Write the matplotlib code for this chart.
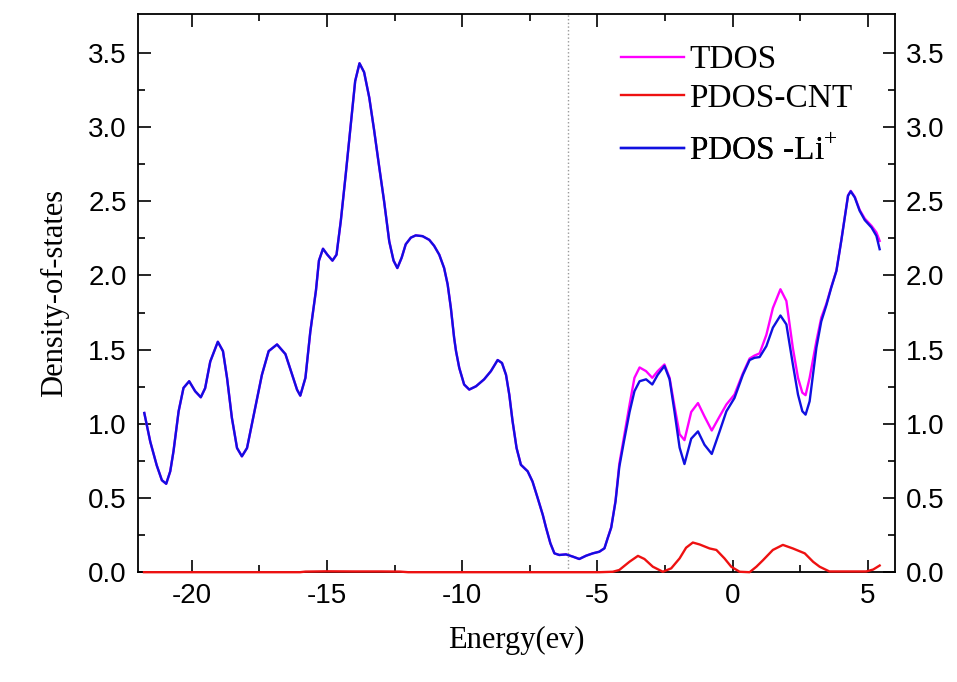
import matplotlib
matplotlib.use("Agg")
import matplotlib.pyplot as plt
from matplotlib.lines import Line2D

plt.rcParams['font.family'] = ['Liberation Sans', 'DejaVu Sans']
plt.rcParams['axes.unicode_minus'] = False
plt.rcParams['mathtext.fontset'] = 'custom'
plt.rcParams['mathtext.rm'] = 'Liberation Serif'

# energy grid (eV) shared by TDOS and PDOS-Li+
energy = [-21.76, -21.54, -21.30, -21.11, -20.95, -20.80, -20.68, -20.49, -20.31, -20.10,
          -19.88, -19.67, -19.51, -19.32, -19.04, -18.85, -18.70, -18.52, -18.33, -18.15,
          -17.96, -17.71, -17.41, -17.16, -16.85, -16.54, -16.29, -16.11, -15.99, -15.80,
          -15.62, -15.41, -15.30, -15.15, -14.99, -14.80, -14.65, -14.49, -14.31, -14.12,
          -13.96, -13.80, -13.63, -13.44, -13.26, -13.07, -12.89, -12.70, -12.54, -12.40,
          -12.24, -12.09, -11.90, -11.72, -11.47, -11.22, -11.04, -10.85, -10.67, -10.54,
          -10.42, -10.30, -10.23, -10.11, -9.93, -9.74, -9.49, -9.19, -8.94, -8.69,
          -8.53, -8.38, -8.26, -8.14, -7.99, -7.83, -7.58, -7.40, -7.21, -7.02,
          -6.90, -6.74, -6.59, -6.41, -6.16, -5.91, -5.67, -5.42, -5.17, -4.93,
          -4.74, -4.62, -4.49, -4.33, -4.19, -4.02, -3.81, -3.63, -3.44, -3.20,
          -2.97, -2.77, -2.52, -2.33, -2.15, -1.96, -1.78, -1.53, -1.28, -1.04,
          -0.77, -0.48, -0.23, 0.07, 0.38, 0.63, 0.81, 1.00, 1.25, 1.49,
          1.77, 1.99, 2.23, 2.42, 2.58, 2.70, 2.85, 3.10, 3.28, 3.47,
          3.65, 3.84, 4.02, 4.15, 4.27, 4.37, 4.52, 4.70, 4.89, 5.14,
          5.32, 5.44]

pdos_li = [1.073, 0.88, 0.72, 0.62, 0.596, 0.68, 0.815, 1.085, 1.242, 1.287,
           1.22, 1.179, 1.24, 1.42, 1.553, 1.49, 1.31, 1.04, 0.837, 0.781,
           0.837, 1.06, 1.33, 1.49, 1.535, 1.47, 1.33, 1.23, 1.19, 1.31,
           1.62, 1.90, 2.10, 2.18, 2.14, 2.10, 2.14, 2.37, 2.68, 3.02,
           3.31, 3.43, 3.37, 3.20, 2.98, 2.73, 2.50, 2.23, 2.10, 2.05,
           2.12, 2.21, 2.255, 2.27, 2.265, 2.24, 2.20, 2.14, 2.05, 1.94,
           1.78, 1.58, 1.49, 1.377, 1.265, 1.231, 1.253, 1.30, 1.355, 1.43,
           1.41, 1.33, 1.197, 1.02, 0.837, 0.724, 0.68, 0.611, 0.50, 0.386,
           0.30, 0.195, 0.127, 0.116, 0.12, 0.105, 0.089, 0.111, 0.127, 0.138,
           0.161, 0.229, 0.30, 0.476, 0.71, 0.88, 1.08, 1.22, 1.287, 1.30,
           1.265, 1.33, 1.39, 1.30, 1.084, 0.84, 0.729, 0.90, 0.949, 0.859,
           0.797, 0.949, 1.084, 1.174, 1.33, 1.43, 1.445, 1.45, 1.524, 1.648,
           1.73, 1.67, 1.40, 1.197, 1.085, 1.062, 1.152, 1.513, 1.69, 1.80,
           1.918, 2.03, 2.233, 2.39, 2.537, 2.567, 2.526, 2.436, 2.373, 2.323,
           2.267, 2.177]

tdos = [1.073, 0.88, 0.72, 0.62, 0.596, 0.68, 0.815, 1.085, 1.242, 1.287,
        1.22, 1.179, 1.24, 1.42, 1.553, 1.49, 1.31, 1.04, 0.837, 0.781,
        0.837, 1.06, 1.33, 1.49, 1.535, 1.47, 1.33, 1.23, 1.19, 1.31,
        1.62, 1.90, 2.10, 2.18, 2.14, 2.10, 2.14, 2.37, 2.68, 3.02,
        3.31, 3.43, 3.37, 3.20, 2.98, 2.73, 2.50, 2.23, 2.10, 2.05,
        2.12, 2.21, 2.255, 2.27, 2.265, 2.24, 2.20, 2.14, 2.05, 1.94,
        1.78, 1.58, 1.49, 1.377, 1.265, 1.231, 1.253, 1.30, 1.355, 1.43,
        1.41, 1.33, 1.197, 1.02, 0.837, 0.724, 0.68, 0.611, 0.50, 0.386,
        0.30, 0.195, 0.127, 0.116, 0.12, 0.105, 0.089, 0.111, 0.127, 0.138,
        0.161, 0.23, 0.302, 0.482, 0.73, 0.91, 1.13, 1.31, 1.38, 1.355,
        1.31, 1.355, 1.40, 1.31, 1.12, 0.93, 0.89, 1.08, 1.14, 1.05,
        0.955, 1.05, 1.13, 1.197, 1.34, 1.44, 1.46, 1.475, 1.60, 1.78,
        1.907, 1.828, 1.51, 1.31, 1.21, 1.193, 1.31, 1.557, 1.715, 1.81,
        1.922, 2.033, 2.236, 2.393, 2.54, 2.57, 2.53, 2.442, 2.383, 2.334,
        2.29, 2.233]

energy_cnt = [-21.77, -16.0, -15.8, -15.0, -14.0, -13.0, -12.3, -12.0, -4.93, -4.43,
              -4.19, -3.81, -3.50, -3.26, -2.95, -2.58, -2.27, -1.96, -1.72, -1.47,
              -1.22, -0.85, -0.60, -0.30, -0.05, 0.26, 0.63, 0.88, 1.12, 1.49,
              1.86, 2.23, 2.67, 2.98, 3.22, 3.58, 4.94, 5.20, 5.44]
pdos_cnt = [0.0, 0.0, 0.004, 0.006, 0.005, 0.005, 0.004, 0.0, 0.0, 0.003,
            0.015, 0.071, 0.11, 0.089, 0.037, 0.003, 0.026, 0.093, 0.165, 0.20,
            0.187, 0.16, 0.15, 0.093, 0.037, 0.003, 0.0, 0.037, 0.08, 0.15,
            0.184, 0.16, 0.127, 0.07, 0.037, 0.005, 0.005, 0.018, 0.045]

fermi = -6.1

fig = plt.figure(figsize=(9.57, 6.82), dpi=100)
ax = fig.add_axes([0.144, 0.161, 0.791, 0.818])

c_tdos, c_cnt, c_li = '#ff00ff', '#ee1111', '#1010e0'
lw = 1.7
ax.plot(energy, tdos, color=c_tdos, lw=lw, solid_joinstyle='round')
# red sits on the bottom spine in the original, so draw it above the frame
ax.plot(energy_cnt, pdos_cnt, color=c_cnt, lw=lw, solid_joinstyle='round',
        zorder=2.6, clip_on=False)
ax.plot(energy, pdos_li, color=c_li, lw=lw, solid_joinstyle='round')
ax.axvline(fermi, color='#999999', lw=1, ls=':')

ax.set_xlim(-22, 6)
ax.set_ylim(0, 3.76)
ax.set_xticks([-20, -15, -10, -5, 0, 5])
ax.set_xticks([-17.5, -12.5, -7.5, -2.5, 2.5], minor=True)
ax.set_yticks([0, 0.5, 1.0, 1.5, 2.0, 2.5, 3.0, 3.5])
ax.set_yticks([0.25, 0.75, 1.25, 1.75, 2.25, 2.75, 3.25], minor=True)
ax.set_yticklabels(['0.0', '0.5', '1.0', '1.5', '2.0', '2.5', '3.0', '3.5'])

ax.tick_params(which='both', direction='in', top=True, right=True,
               labelright=True, width=1.2, labelsize=20)
ax.tick_params(which='major', length=9, pad=8)
ax.tick_params(which='minor', length=5)
for s in ax.spines.values():
    s.set_linewidth(1.3)

ax.set_xlabel('Energy(ev)', family='Liberation Serif', fontsize=22, labelpad=12)
ax.set_ylabel('Density-of-states', family='Liberation Serif', fontsize=22, labelpad=14)

# legend: one entry per legend so the rows can sit where they do in the original
entries = [('TDOS', c_tdos, 0.918), ('PDOS-CNT', c_cnt, 0.849), (r'PDOS -Li$^{+}$', c_li, 0.755)]
for label, col, ypos in entries:
    leg = ax.legend([Line2D([], [], color=col, lw=lw)], [label], loc='center left',
                    bbox_to_anchor=(0.638, ypos), frameon=False, borderpad=0,
                    borderaxespad=0, handlelength=1.9, handletextpad=0.15,
                    prop={'family': 'Liberation Serif', 'size': 24})
    ax.add_artist(leg)

fig.savefig('out.png', dpi=100)
